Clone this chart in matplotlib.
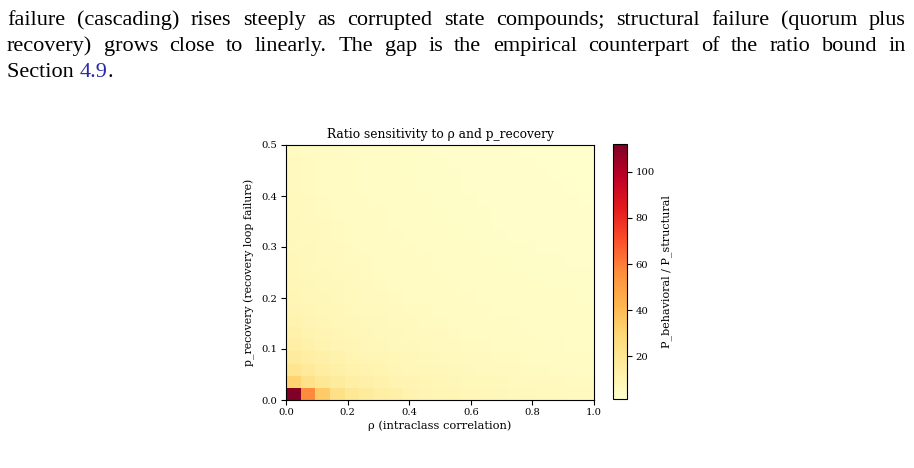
import matplotlib
matplotlib.use('Agg')
import matplotlib.pyplot as plt
import numpy as np

# ---------------------------------------------------------------------------
# Data: ratio P_behavioral / P_structural on a 21 x 21 grid
# rows = p_recovery (bottom -> top), columns = rho (left -> right)
# ---------------------------------------------------------------------------
rho_range = [0.0, 1.0]
p_recovery_range = [0.0, 0.5]

ratio_rows = [
    [112, 57, 34, 24, 19, 16, 14, 12.5, 11, 10, 9.3, 8.7, 8.2, 7.7, 7.3, 6.9, 6.6, 6.3, 6.0, 5.8, 5.6],
    [31, 23, 19, 16, 14, 12.5, 11.2, 10.2, 9.4, 8.7, 8.1, 7.6, 7.2, 6.8, 6.5, 6.2, 5.9, 5.7, 5.5, 5.3, 5.1],
    [21, 17.5, 15, 13.2, 11.8, 10.7, 9.8, 9.0, 8.4, 7.8, 7.3, 6.9, 6.5, 6.2, 5.9, 5.6, 5.4, 5.2, 5.0, 4.8, 4.7],
    [16.5, 14.2, 12.5, 11.2, 10.2, 9.3, 8.6, 8.0, 7.5, 7.0, 6.6, 6.2, 5.9, 5.6, 5.4, 5.2, 5.0, 4.8, 4.6, 4.5, 4.3],
    [13.8, 12.0, 10.7, 9.7, 8.9, 8.2, 7.6, 7.1, 6.7, 6.3, 5.9, 5.6, 5.4, 5.1, 4.9, 4.7, 4.6, 4.4, 4.3, 4.1, 4.0],
    [12.0, 10.5, 9.5, 8.7, 8.0, 7.4, 6.9, 6.5, 6.1, 5.8, 5.5, 5.2, 5.0, 4.8, 4.6, 4.4, 4.3, 4.1, 4.0, 3.9, 3.8],
    [10.7, 9.5, 8.6, 7.9, 7.3, 6.8, 6.4, 6.0, 5.7, 5.4, 5.1, 4.9, 4.7, 4.5, 4.3, 4.2, 4.0, 3.9, 3.8, 3.7, 3.6],
    [9.7, 8.7, 7.9, 7.3, 6.8, 6.3, 5.9, 5.6, 5.3, 5.1, 4.8, 4.6, 4.4, 4.3, 4.1, 4.0, 3.8, 3.7, 3.6, 3.5, 3.4],
    [8.9, 8.0, 7.3, 6.8, 6.3, 5.9, 5.6, 5.3, 5.0, 4.8, 4.6, 4.4, 4.2, 4.1, 3.9, 3.8, 3.7, 3.6, 3.5, 3.4, 3.3],
    [8.3, 7.5, 6.9, 6.4, 6.0, 5.6, 5.3, 5.0, 4.8, 4.6, 4.4, 4.2, 4.0, 3.9, 3.8, 3.6, 3.5, 3.4, 3.3, 3.2, 3.1],
    [7.8, 7.1, 6.5, 6.1, 5.7, 5.3, 5.0, 4.8, 4.6, 4.4, 4.2, 4.0, 3.9, 3.7, 3.6, 3.4, 3.3, 3.2, 3.1, 3.0, 2.9],
    [7.4, 6.7, 6.2, 5.8, 5.4, 5.1, 4.8, 4.6, 4.4, 4.2, 4.0, 3.8, 3.6, 3.5, 3.3, 3.2, 3.1, 3.0, 2.9, 2.8, 2.7],
    [7.0, 6.4, 5.9, 5.5, 5.2, 4.9, 4.6, 4.4, 4.2, 4.0, 3.8, 3.6, 3.4, 3.3, 3.1, 3.0, 2.9, 2.8, 2.7, 2.6, 2.5],
    [6.7, 6.1, 5.7, 5.3, 5.0, 4.7, 4.5, 4.3, 4.0, 3.8, 3.6, 3.4, 3.3, 3.1, 3.0, 2.8, 2.7, 2.6, 2.5, 2.4, 2.3],
    [6.4, 5.9, 5.5, 5.1, 4.8, 4.6, 4.3, 4.1, 3.9, 3.7, 3.5, 3.3, 3.1, 3.0, 2.8, 2.7, 2.6, 2.5, 2.4, 2.3, 2.2],
    [6.2, 5.7, 5.3, 5.0, 4.7, 4.4, 4.2, 3.9, 3.7, 3.5, 3.3, 3.2, 3.0, 2.9, 2.7, 2.6, 2.5, 2.4, 2.3, 2.2, 2.1],
    [6.0, 5.5, 5.1, 4.8, 4.6, 4.3, 4.0, 3.8, 3.6, 3.4, 3.2, 3.1, 2.9, 2.8, 2.6, 2.5, 2.4, 2.3, 2.2, 2.1, 2.0],
    [5.8, 5.4, 5.0, 4.7, 4.4, 4.1, 3.9, 3.7, 3.5, 3.3, 3.1, 3.0, 2.8, 2.7, 2.5, 2.4, 2.3, 2.2, 2.1, 2.0, 1.9],
    [5.6, 5.2, 4.9, 4.6, 4.3, 4.0, 3.8, 3.6, 3.4, 3.2, 3.0, 2.9, 2.7, 2.6, 2.4, 2.3, 2.2, 2.1, 2.0, 1.9, 1.8],
    [5.5, 5.1, 4.8, 4.5, 4.2, 3.9, 3.7, 3.5, 3.3, 3.1, 2.9, 2.8, 2.6, 2.5, 2.4, 2.2, 2.1, 2.0, 1.9, 1.8, 1.7],
    [5.4, 5.0, 4.7, 4.4, 4.1, 3.8, 3.6, 3.4, 3.2, 3.0, 2.8, 2.7, 2.5, 2.4, 2.3, 2.1, 2.0, 1.9, 1.8, 1.7, 1.6],
]

x_ticks = [0.0, 0.2, 0.4, 0.6, 0.8, 1.0]
y_ticks = [0.0, 0.1, 0.2, 0.3, 0.4, 0.5]
cbar_ticks = [20, 40, 60, 80, 100]

# surrounding page text
para_lines = [
    "failure (cascading) rises steeply as corrupted state compounds; structural failure (quorum plus",
    "recovery) grows close to linearly.  The gap is the empirical counterpart of the ratio bound in",
]
last_line = ["Section ", "4.9", "."]

TEXT_FONT = 'Liberation Serif'
LINK_COLOR = '#2a2aa6'
CHART_FONT = 'DejaVu Serif'

fig = plt.figure(figsize=(9.14, 4.68), dpi=100)
fig.set_facecolor('white')
W, H = 914, 468


def px(x, y):
    return x / W, 1 - y / H


# ---------------------------------------------------------------------------
# Page text (justified like LaTeX)
# ---------------------------------------------------------------------------
renderer = fig.canvas.get_renderer()
x_left, x_right = 7, 906
baselines = [25, 51, 77]
fsize = 16

for line, yb in zip(para_lines, baselines):
    words = line.split()
    texts = [fig.text(0, 0, w, fontsize=fsize, family=TEXT_FONT,
                      va='baseline', ha='left') for w in words]
    widths = [t.get_window_extent(renderer).width for t in texts]
    gap = (x_right - x_left - sum(widths)) / (len(words) - 1)
    x = x_left
    for t, w in zip(texts, widths):
        t.set_position(px(x, yb))
        x += w + gap

x = x_left
for part in last_line:
    color = LINK_COLOR if part == "4.9" else 'black'
    t = fig.text(*px(x, baselines[2]), part, fontsize=fsize, family=TEXT_FONT,
                 va='baseline', ha='left', color=color)
    x += t.get_window_extent(renderer).width

# ---------------------------------------------------------------------------
# Heatmap
# ---------------------------------------------------------------------------
ratio = np.array(ratio_rows)
ax = fig.add_axes([286 / W, 1 - 400 / H, 308 / W, 255 / H])
im = ax.imshow(ratio, origin='lower', aspect='auto', cmap='YlOrRd',
               extent=[rho_range[0], rho_range[1],
                       p_recovery_range[0], p_recovery_range[1]],
               interpolation='nearest')

ax.set_xticks(x_ticks)
ax.set_yticks(y_ticks)
ax.tick_params(labelsize=7.2, length=3.5, width=0.8, pad=2.5)
for lab in ax.get_xticklabels() + ax.get_yticklabels():
    lab.set_family(CHART_FONT)
ax.set_xlabel('ρ (intraclass correlation)', fontsize=8.2, family=CHART_FONT, labelpad=2)
ax.set_ylabel('p_recovery (recovery loop failure)', fontsize=7.8, family=CHART_FONT, labelpad=5)
ax.set_title('Ratio sensitivity to ρ and p_recovery', fontsize=8.8, family=CHART_FONT, pad=5)

cax = fig.add_axes([613 / W, 1 - 399 / H, 14 / W, 255 / H])
cb = fig.colorbar(im, cax=cax)
cb.set_ticks(cbar_ticks)
cb.ax.tick_params(labelsize=7.2, length=3.5, width=0.8, pad=2.5)
for lab in cb.ax.get_yticklabels():
    lab.set_family(CHART_FONT)
cb.set_label('P_behavioral / P_structural', fontsize=8.0, family=CHART_FONT, labelpad=5)

fig.savefig('out.png', dpi=100, facecolor='white')
